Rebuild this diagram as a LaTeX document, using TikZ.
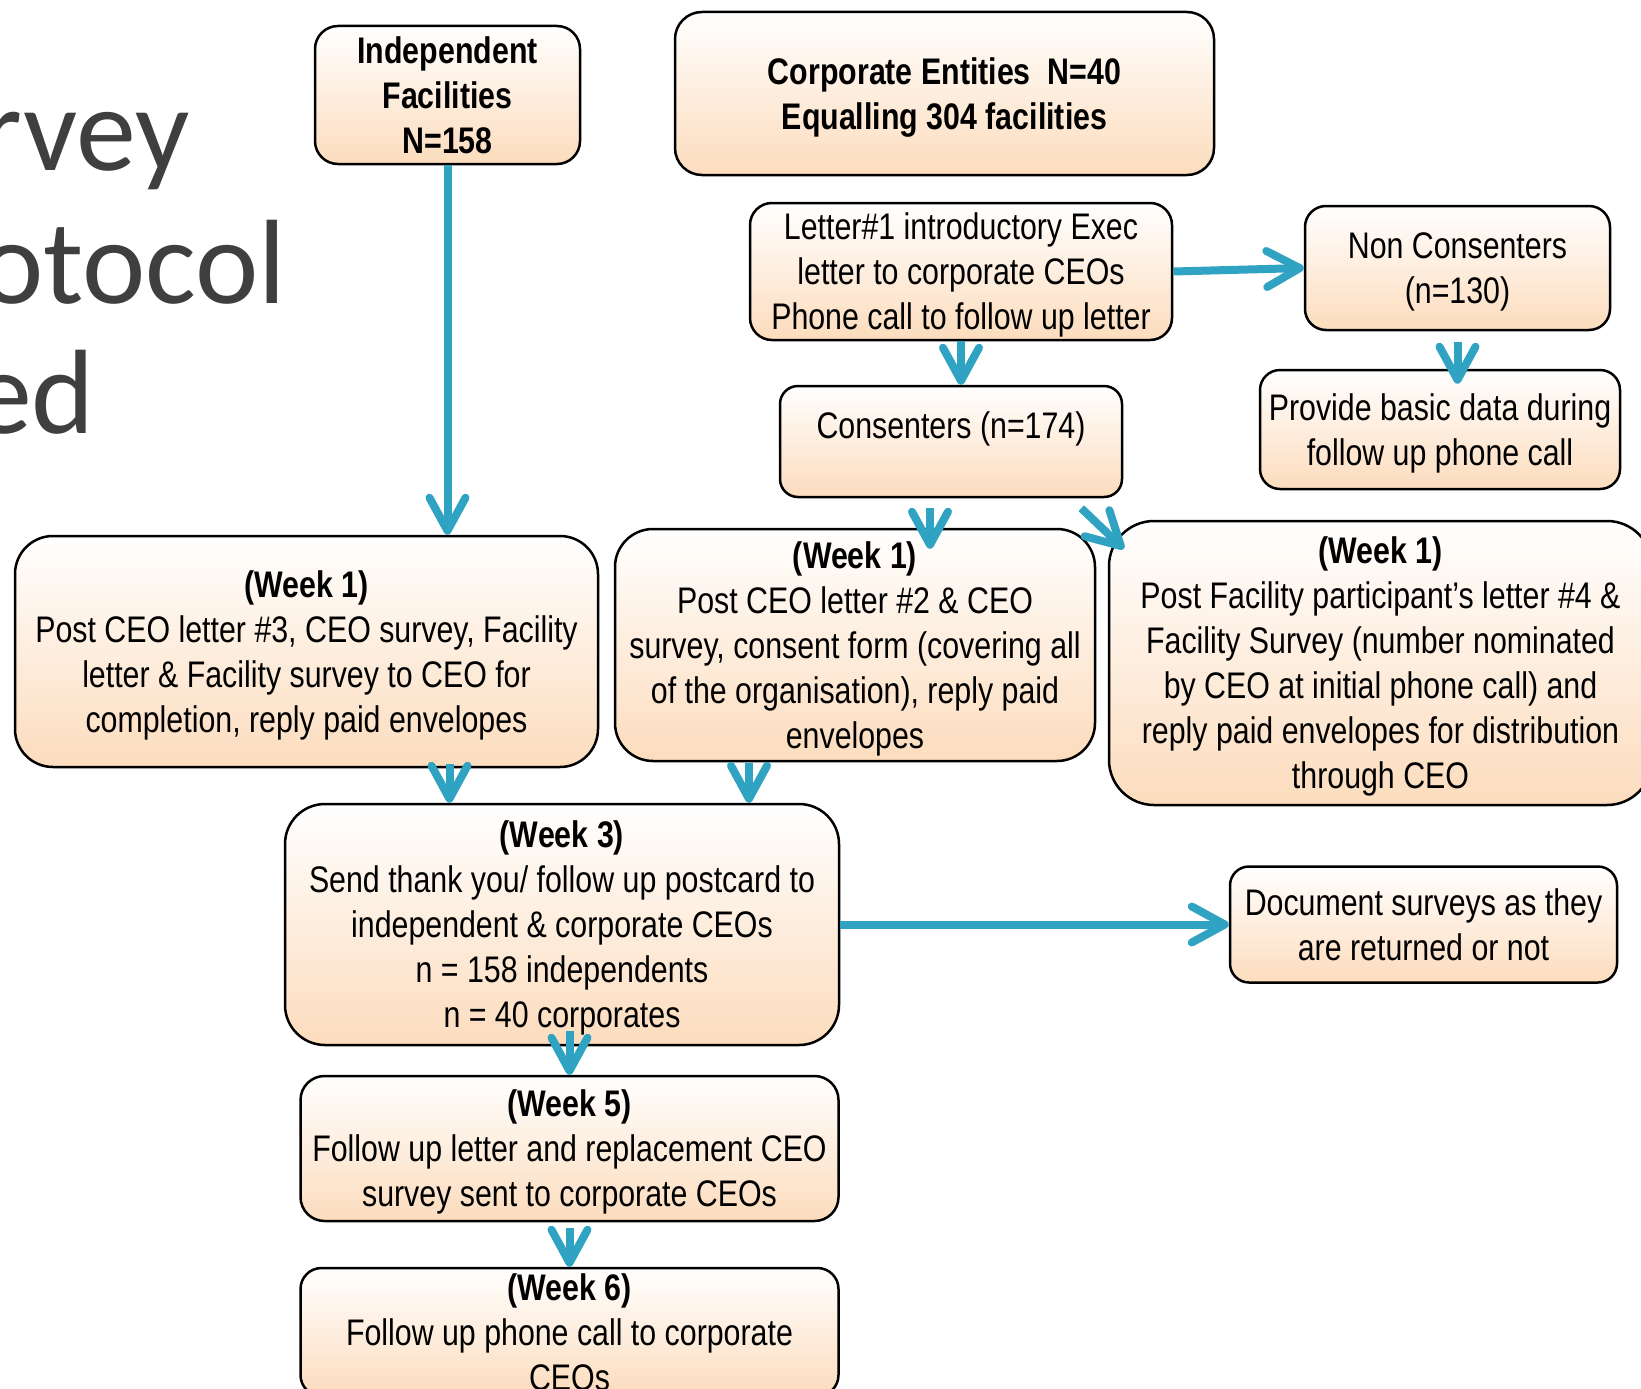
\documentclass[tikz,border=0pt]{standalone}
\usepackage{fontspec}
\setmainfont{Liberation Sans}[FakeStretch=0.82]
\newfontfamily\titlefont{Carlito}
\usetikzlibrary{arrows.meta,calc}
\definecolor{flowblue}{HTML}{2FA3C1}
\definecolor{peach}{HTML}{FCDCBD}
\definecolor{titlegrey}{HTML}{3F3F3F}

\begin{document}
\begin{tikzpicture}[x=1pt, y=-1pt,
    stage/.style={draw, line width=2.5pt, rounded corners=#1, top color=white, bottom color=peach,
      align=center, inner sep=3pt, text depth=0pt, font=\fontsize{37}{45}\selectfont},
    stage/.default=22pt,
    headbox/.style={stage=#1, font=\fontsize{37}{45}\selectfont\bfseries},
    flow/.style={draw=flowblue, line width=8pt, -{Straight Barb[length=33pt, width=36pt, round]}},
    title/.style={font=\titlefont\fontsize{120}{132}\selectfont, text=titlegrey, anchor=base west, inner sep=0pt}]
    \useasboundingbox (0,0) rectangle (1641,1389);
    \clip (0,0) rectangle (1641,1389);

    % title, cut at the left edge
    \node[title] (ttl1) at (-20,170) {rvey};
    \node[title] (ttl2) at (-20,303) {otocol};
    \node[title] (ttl3) at (-28,433) {ed};

    % top row
    \node[headbox=23pt, minimum width=265pt, minimum height=138pt] (indep) at (447.5,95) {Independent\\Facilities\\N=158};
    \node[headbox=27pt, minimum width=539pt, minimum height=163pt] (corp) at (944.5,93.5) {Corporate Entities~~N=40\\Equalling 304 facilities};
    \node[stage, minimum width=422pt, minimum height=137pt] (letter1) at (961,271.5) {Letter\#1 introductory Exec\\letter to corporate CEOs\\Phone call to follow up letter};
    \node[stage=21pt, minimum width=305pt, minimum height=124pt] (noncons) at (1457.5,268) {Non Consenters\\(n=130)};
    \node[stage=20pt, minimum width=360pt, minimum height=119pt] (provide) at (1440,429.5) {Provide basic data during\\follow up phone call};
    \node[stage=18pt, minimum width=342pt, minimum height=111pt, text height=27pt, text depth=33pt] (consenters) at (951,441.5) {Consenters (n=174)};

    % week 1
    \node[stage=38pt, minimum width=583pt, minimum height=231pt] (week1a) at (306.5,651.5) {\textbf{(Week 1)}\\Post CEO letter \#3, CEO survey, Facility\\letter \& Facility survey to CEO for\\completion, reply paid envelopes};
    \node[stage=38pt, minimum width=480pt, minimum height=232pt] (week1b) at (855,645) {\textbf{(Week 1)}\\Post CEO letter \#2 \& CEO\\survey, consent form (covering all\\of the organisation), reply paid\\envelopes};
    \node[stage=45pt, minimum width=543pt, minimum height=284pt] (week1c) at (1380.5,663) {\textbf{(Week 1)}\\Post Facility participant’s letter \#4 \&\\Facility Survey (number nominated\\by CEO at initial phone call) and\\reply paid envelopes for distribution\\through CEO};

    % later weeks
    \node[stage=40pt, minimum width=554pt, minimum height=241pt] (week3) at (562,924.5) {\textbf{(Week 3)}\\Send thank you/ follow up postcard to\\independent \& corporate CEOs\\n = 158 independents\\n = 40 corporates};
    \node[stage=19pt, minimum width=387pt, minimum height=116pt] (document) at (1423.5,924.5) {Document surveys as they\\are returned or not};
    \node[stage=24pt, minimum width=538pt, minimum height=145pt] (week5) at (569.5,1148.5) {\textbf{(Week 5)}\\Follow up letter and replacement CEO\\survey sent to corporate CEOs};
    \node[stage=21pt, minimum width=538pt, minimum height=128pt, inner ysep=0pt] (week6) at (569.5,1332) {\textbf{(Week 6)}\\Follow up phone call to corporate\\CEOs};

    \draw[flow] (indep.south) -- (indep.south |- week1a.north);
    \draw[flow] (letter1.east) -- (noncons.west);
    \draw[flow] (letter1.south) -- (letter1.south |- consenters.north);
    \draw[flow] ($(noncons.south)+(0,11)$) -- ($(noncons.south |- provide.north)+(0,15)$);
    \draw[flow] ($(consenters.south)+(-21,10)$) -- ($(consenters.south |- week1b.north)+(-21,21)$);
    \draw[flow] ($(consenters.south east)+(-42,10)$) -- ($(week1c.north west)+(16,29)$);
    \draw[flow] ($(week1a.south)+(143,-4)$) -- ($(week1a.south |- week3.north)+(143,0)$);
    \draw[flow] ($(week1b.south)+(-106,1)$) -- ($(week1b.south |- week3.north)+(-106,0)$);
    \draw[flow] (week3.east) -- (document.west);
    \draw[flow] ($(week5.north |- week3.south)+(0,-15)$) -- (week5.north);
    \draw[flow] ($(week5.south)+(0,6)$) -- (week6.north);
\end{tikzpicture}
\end{document}
